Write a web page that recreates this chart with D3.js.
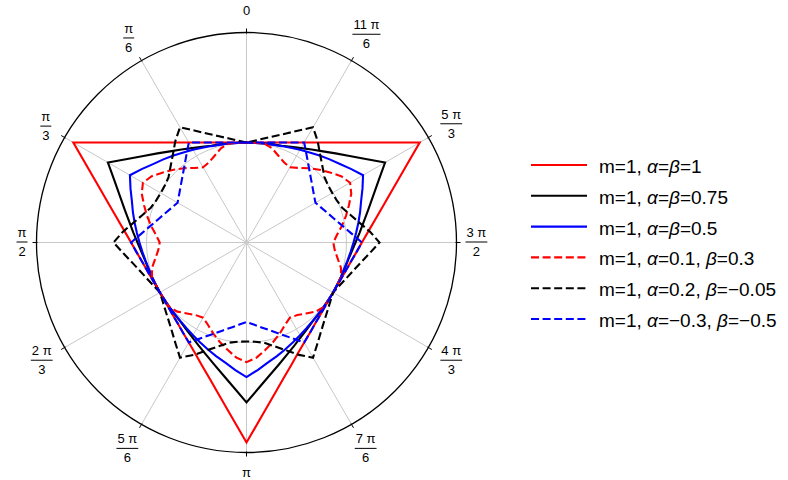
<!DOCTYPE html>
<html>
<head>
<meta charset="utf-8">
<script src="https://cdn.jsdelivr.net/npm/d3@7/dist/d3.min.js"></script>
<style>
  html, body { margin: 0; padding: 0; background: #fff; }
  svg { display: block; font-family: "Liberation Sans", Arial, sans-serif; }
</style>
</head>
<body>
<svg id="chart" width="788" height="480"></svg>
<script>
// ---------- DATA ----------
// polar angle in degrees, measured counter-clockwise from the top (0 at 12 o'clock)
const thetaDeg = d3.range(0, 360, 5);

const seriesLabels = [
  "m=1, α=β=1",
  "m=1, α=β=0.75",
  "m=1, α=β=0.5",
  "m=1, α=0.1, β=0.3",
  "m=1, α=0.2, β=−0.05",
  "m=1, α=−0.3, β=−0.5"
];

const rRed = [
  0.5,0.502,0.508,0.518,0.532,0.552,0.577,0.610,0.653,0.707,0.778,0.872,1.0,0.872,0.778,0.707,0.653,0.610,0.577,0.552,0.532,0.518,0.508,0.502,
  0.5,0.502,0.508,0.518,0.532,0.552,0.577,0.610,0.653,0.707,0.778,0.872,1.0,0.872,0.778,0.707,0.653,0.610,0.577,0.552,0.532,0.518,0.508,0.502,
  0.5,0.502,0.508,0.518,0.532,0.552,0.577,0.610,0.653,0.707,0.778,0.872,1.0,0.872,0.778,0.707,0.653,0.610,0.577,0.552,0.532,0.518,0.508,0.502
];
const rBlack = [
  0.5,0.5,0.503,0.508,0.515,0.528,0.545,0.568,0.595,0.63,0.673,0.728,0.8,0.728,0.673,0.63,0.595,0.568,0.545,0.528,0.515,0.508,0.503,0.5,
  0.5,0.5,0.503,0.508,0.515,0.528,0.545,0.568,0.595,0.63,0.673,0.728,0.8,0.728,0.673,0.63,0.595,0.568,0.545,0.528,0.515,0.508,0.503,0.5,
  0.5,0.5,0.503,0.508,0.515,0.528,0.545,0.568,0.595,0.63,0.673,0.728,0.8,0.728,0.673,0.63,0.595,0.568,0.545,0.528,0.515,0.508,0.503,0.5
];
const rBlue = [
  0.5,0.5,0.503,0.506,0.513,0.523,0.535,0.55,0.568,0.588,0.61,0.64,0.673,0.64,0.61,0.588,0.568,0.55,0.535,0.523,0.513,0.506,0.503,0.5,
  0.5,0.5,0.503,0.506,0.513,0.523,0.535,0.55,0.568,0.588,0.61,0.64,0.673,0.64,0.61,0.588,0.568,0.55,0.535,0.523,0.513,0.506,0.503,0.5,
  0.5,0.5,0.503,0.506,0.513,0.523,0.535,0.55,0.568,0.588,0.61,0.64,0.673,0.64,0.61,0.588,0.568,0.55,0.535,0.523,0.513,0.506,0.503,0.5
];
const rRedDash = [
  0.5,0.501,0.503,0.489,0.463,0.443,0.434,0.455,0.485,0.515,0.545,0.578,0.598,0.578,0.545,0.515,0.485,0.455,0.434,0.443,0.463,0.489,0.503,0.501,
  0.5,0.501,0.503,0.489,0.463,0.443,0.434,0.455,0.485,0.515,0.545,0.578,0.598,0.578,0.545,0.515,0.485,0.455,0.434,0.443,0.463,0.489,0.503,0.501,
  0.5,0.501,0.503,0.489,0.463,0.443,0.434,0.455,0.485,0.515,0.545,0.578,0.598,0.578,0.545,0.515,0.485,0.455,0.434,0.443,0.463,0.489,0.503,0.501
];
const rBlackDash = [
  0.5,0.512,0.529,0.551,0.58,0.618,0.665,0.62,0.573,0.537,0.509,0.498,0.495,0.498,0.509,0.537,0.573,0.62,0.665,0.618,0.58,0.551,0.529,0.512,
  0.5,0.512,0.529,0.551,0.58,0.618,0.665,0.62,0.573,0.537,0.509,0.498,0.495,0.498,0.509,0.537,0.573,0.62,0.665,0.618,0.58,0.551,0.529,0.512,
  0.5,0.512,0.529,0.551,0.58,0.618,0.665,0.62,0.573,0.537,0.509,0.498,0.495,0.498,0.509,0.537,0.573,0.62,0.665,0.618,0.58,0.551,0.529,0.512
];
const rBlueDash = [
  0.5,0.502,0.508,0.518,0.532,0.552,0.577,0.526,0.486,0.455,0.431,0.412,0.398,0.412,0.431,0.455,0.486,0.526,0.577,0.552,0.532,0.518,0.508,0.502,
  0.5,0.502,0.508,0.518,0.532,0.552,0.577,0.526,0.486,0.455,0.431,0.412,0.398,0.412,0.431,0.455,0.486,0.526,0.577,0.552,0.532,0.518,0.508,0.502,
  0.5,0.502,0.508,0.518,0.532,0.552,0.577,0.526,0.486,0.455,0.431,0.412,0.398,0.412,0.431,0.455,0.486,0.526,0.577,0.552,0.532,0.518,0.508,0.502
];

// angular tick labels (every 30 degrees, counter-clockwise from top)
const tickDeg = [0, 30, 60, 90, 120, 150, 180, 210, 240, 270, 300, 330];
const tickNumerators   = ["0", "π", "π", "π", "2 π", "5 π", "π", "7 π", "4 π", "3 π", "5 π", "11 π"];
const tickDenominators = ["",  "6", "3", "2", "3",   "6",   "",  "6",   "3",   "2",   "3",   "6"];

const gridRadii = [0.5];
const rMax = 1.05;

// ---------- STYLE ----------
const seriesData = [rRed, rBlack, rBlue, rRedDash, rBlackDash, rBlueDash];
const colors = ["#ff0000", "#000000", "#0000ff", "#ff0000", "#000000", "#0000ff"];
const dashes = [null, null, null, "8,3.6", "8,3.6", "8,3.6"];

// ---------- DRAW ----------
const svg = d3.select("#chart");
const cx = 246.5, cy = 242.5, R = 210;
const r = d3.scaleLinear().domain([0, rMax]).range([0, R]);
const toRad = d => d * Math.PI / 180;
const g = svg.append("g").attr("transform", `translate(${cx},${cy})`);

// spokes
g.append("g").selectAll("line").data(tickDeg).join("line")
  .attr("x1", 0).attr("y1", 0)
  .attr("x2", d => -R * Math.sin(toRad(d)))
  .attr("y2", d => -R * Math.cos(toRad(d)))
  .attr("stroke", "#c8c8c8").attr("stroke-width", 1);

// grid circles
g.append("g").selectAll("circle").data(gridRadii).join("circle")
  .attr("r", d => r(d)).attr("fill", "none")
  .attr("stroke", "#c8c8c8").attr("stroke-width", 1);

// curves
const line = d3.lineRadial()
  .angle(d => -toRad(d[0]))
  .radius(d => r(d[1]))
  .curve(d3.curveLinearClosed);

seriesData.forEach((vals, i) => {
  const pts = thetaDeg.map((t, j) => [t, vals[j]]);
  g.append("path")
    .attr("d", line(pts))
    .attr("fill", "none")
    .attr("stroke", colors[i])
    .attr("stroke-width", 2.1)
    .attr("stroke-linejoin", "miter")
    .attr("stroke-dasharray", dashes[i]);
});

// outer frame circle
g.append("circle").attr("r", R).attr("fill", "none")
  .attr("stroke", "#000").attr("stroke-width", 1.3);

// ticks on frame
g.append("g").selectAll("line").data(tickDeg).join("line")
  .attr("x1", d => -(R - 1) * Math.sin(toRad(d)))
  .attr("y1", d => -(R - 1) * Math.cos(toRad(d)))
  .attr("x2", d => -(R + 4) * Math.sin(toRad(d)))
  .attr("y2", d => -(R + 4) * Math.cos(toRad(d)))
  .attr("stroke", "#000").attr("stroke-width", 1);

// tick labels
const fs = 13;
tickDeg.forEach((deg, i) => {
  const ux = -Math.sin(toRad(deg)), uy = -Math.cos(toRad(deg));
  const num = tickNumerators[i], den = tickDenominators[i];
  const lg = g.append("g");
  if (den === "") {
    const t = lg.append("text").text(num)
      .attr("font-size", fs).attr("text-anchor", "middle")
      .attr("dominant-baseline", "central");
    const w = t.node().getComputedTextLength();
    const half = Math.abs(ux) * w / 2 + Math.abs(uy) * 12;
    const d = R + 9 + half;
    t.attr("x", ux * d).attr("y", uy * d - 1);
  } else {
    const tn = lg.append("text").text(num).attr("font-size", fs).attr("text-anchor", "middle");
    const td = lg.append("text").text(den).attr("font-size", fs).attr("text-anchor", "middle");
    const w = Math.max(tn.node().getComputedTextLength(), td.node().getComputedTextLength()) + 2;
    const half = Math.abs(ux) * w / 2 + Math.abs(uy) * 16;
    const d = R + 9 + half;
    const x = ux * d, y = uy * d;
    tn.attr("x", x).attr("y", y - 5.5);
    td.attr("x", x).attr("y", y + 13.5);
    lg.append("line").attr("x1", x - w / 2).attr("x2", x + w / 2)
      .attr("y1", y - 0.5).attr("y2", y - 0.5)
      .attr("stroke", "#000").attr("stroke-width", 1);
  }
});

// legend
const lgX1 = 531, lgX2 = 587, lgY0 = 165, lgDy = 30.8, txtX = 599;
seriesLabels.forEach((lab, i) => {
  const y = lgY0 + i * lgDy;
  svg.append("line").attr("x1", lgX1).attr("x2", lgX2).attr("y1", y).attr("y2", y)
    .attr("stroke", colors[i]).attr("stroke-width", 2.1)
    .attr("stroke-dasharray", dashes[i]);
  const t = svg.append("text").attr("x", txtX).attr("y", y + 1)
    .attr("font-size", 19).attr("dominant-baseline", "central");
  lab.split(/([αβ])/).forEach(part => {
    if (part === "") return;
    const ts = t.append("tspan").text(part);
    if (part === "α" || part === "β") ts.attr("font-style", "italic");
  });
});
</script>
</body>
</html>
